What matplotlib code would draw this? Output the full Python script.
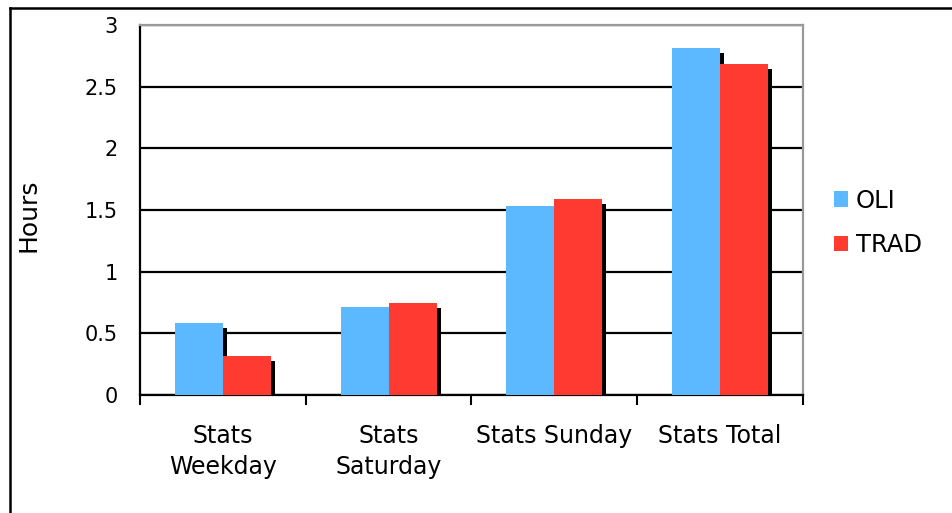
import numpy as np
import matplotlib
matplotlib.use("Agg")
import matplotlib.pyplot as plt
import matplotlib.transforms as mtransforms
from matplotlib.lines import Line2D

plt.rcParams["font.family"] = "DejaVu Sans"

# dados
categorias = ["Stats\nWeekday", "Stats\nSaturday", "Stats Sunday", "Stats Total"]
oli = [0.58, 0.71, 1.53, 2.81]
trad = [0.32, 0.75, 1.59, 2.68]
series = ["OLI", "TRAD"]
yticks = [0, 0.5, 1, 1.5, 2, 2.5, 3]
ytick_labels = ["0", "0.5", "1", "1.5", "2", "2.5", "3"]

cor_oli = "#5cb8ff"
cor_trad = "#ff3a30"

fig = plt.figure(figsize=(9.53, 5.13), dpi=100)
ax = fig.add_axes([140 / 953, 118 / 513, 663 / 953, 370 / 513])

x = np.arange(len(categorias))
larg = 0.29

# sombra preta deslocada (direita e para baixo)
sombra = mtransforms.offset_copy(ax.transData, fig=fig, x=4, y=-5, units="dots")
ax.bar(x - larg / 2, oli, larg, color="black", transform=sombra, zorder=2)
ax.bar(x + larg / 2, trad, larg, color="black", transform=sombra, zorder=2)

ax.bar(x - larg / 2, oli, larg, color=cor_oli, label=series[0], zorder=3)
ax.bar(x + larg / 2, trad, larg, color=cor_trad, label=series[1], zorder=3)

ax.set_xlim(-0.5, len(categorias) - 0.5)
ax.set_ylim(0, 3)

ax.set_yticks(yticks)
ax.set_yticklabels(ytick_labels)
ax.tick_params(axis="y", length=0, pad=16, labelsize=15)
ax.yaxis.grid(True, color="black", linewidth=1.6, zorder=1)
ax.set_axisbelow(True)

ax.set_xticks(x)
ax.set_xticklabels(categorias, linespacing=1.35)
ax.tick_params(axis="x", which="major", length=0, pad=21, labelsize=17)
ax.set_xticks(np.arange(-0.5, len(categorias)), minor=True)
ax.tick_params(axis="x", which="minor", length=7, width=1.5, direction="out", color="black")

for lado in ["left", "bottom"]:
    ax.spines[lado].set_color("black")
    ax.spines[lado].set_linewidth(1.6)
for lado in ["top", "right"]:
    ax.spines[lado].set_color("#999999")
    ax.spines[lado].set_linewidth(1.6)

ax.set_ylabel("Hours", fontsize=18)
ax.yaxis.set_label_coords((40 - 140) / 663, (395 - 215) / 370)

fig.legend(loc="center left", bbox_to_anchor=(812 / 953, 1 - 223 / 513),
           frameon=False, fontsize=17.5, handlelength=0.6, handleheight=0.6,
           handletextpad=0.3, labelspacing=0.85)

# moldura externa (so topo e esquerda)
fig.add_artist(Line2D([10 / 953, 1], [1 - 8 / 513, 1 - 8 / 513], color="black", linewidth=1.8, transform=fig.transFigure))
fig.add_artist(Line2D([10 / 953, 10 / 953], [0, 1 - 8 / 513], color="black", linewidth=1.8, transform=fig.transFigure))

fig.savefig("out.png", dpi=100)
